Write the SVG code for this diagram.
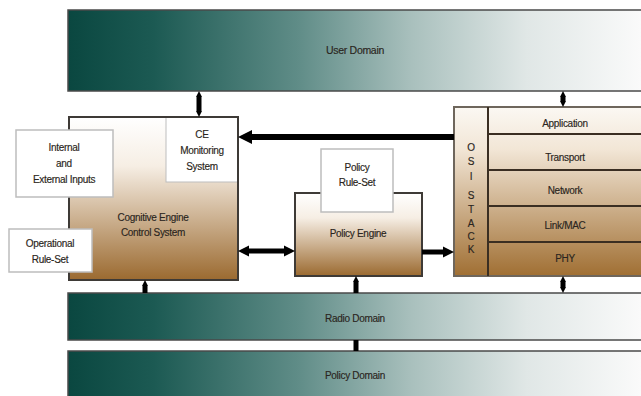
<svg xmlns="http://www.w3.org/2000/svg" width="641" height="396" viewBox="0 0 641 396">
<style>
text{font-family:"Liberation Sans",Arial,sans-serif;font-size:10px;fill:#2a2520;text-anchor:middle;dominant-baseline:central;letter-spacing:-0.3px;stroke:#2a2520;stroke-width:0.15px}
.band{stroke:#4a4a4a;stroke-width:1.5}
.brown{stroke:#3e3a36;stroke-width:2}
.white{fill:#fff;stroke:#bdbdbd;stroke-width:1.5}
.div{stroke:#3a2e22;stroke-width:2}
.conn line{stroke:#000;stroke-width:5}
</style>
<defs>
<linearGradient id="teal" gradientUnits="userSpaceOnUse" x1="68" y1="0" x2="641" y2="0">
<stop offset="0" stop-color="#0a4740"/>
<stop offset="0.15" stop-color="#1c5a53"/>
<stop offset="0.4" stop-color="#5f8c87"/>
<stop offset="0.6" stop-color="#a9c0bd"/>
<stop offset="0.8" stop-color="#e0e7e6"/>
<stop offset="1" stop-color="#fafafa"/>
</linearGradient>
<linearGradient id="tan" x1="0" y1="0" x2="0" y2="1">
<stop offset="0" stop-color="#ffffff"/>
<stop offset="0.3" stop-color="#f6eee4"/>
<stop offset="1" stop-color="#9b6a30"/>
</linearGradient>
<linearGradient id="osi" x1="0" y1="0" x2="0" y2="1">
<stop offset="0" stop-color="#fbf8f3"/>
<stop offset="0.25" stop-color="#f2e6d6"/>
<stop offset="1" stop-color="#a06f33"/>
</linearGradient>
<marker id="hs" viewBox="0 0 10 10" refX="0" refY="5" markerWidth="6" markerHeight="11" orient="auto-start-reverse" markerUnits="userSpaceOnUse"><path d="M0,0L10,5L0,10z" fill="#000"/></marker>
<marker id="hm" viewBox="0 0 10 10" refX="0" refY="5" markerWidth="11" markerHeight="14" orient="auto-start-reverse" markerUnits="userSpaceOnUse"><path d="M0,0L10,5L0,10z" fill="#000"/></marker>
<marker id="hl" viewBox="0 0 10 10" refX="0" refY="5" markerWidth="14" markerHeight="15" orient="auto-start-reverse" markerUnits="userSpaceOnUse"><path d="M0,0L10,5L0,10z" fill="#000"/></marker>
</defs>
<rect width="641" height="396" fill="#fff"/>

<g id="user-domain">
<rect class="band" x="68" y="10" width="580" height="81" fill="url(#teal)"/>
<text x="355" y="50" style="font-size:10.5px">User Domain</text>
</g>

<g id="ce-control">
<rect class="brown" x="69" y="117" width="169" height="163" fill="url(#tan)"/>
<text x="153" y="217">Cognitive Engine</text>
<text x="153" y="232">Control System</text>
</g>

<g id="ce-monitoring">
<rect x="166" y="117" width="72" height="65" fill="#fff" stroke="#bdbdbd" stroke-width="1"/>
<rect x="69" y="117" width="169" height="163" fill="none" class="brown"/>
<text x="202" y="134">CE</text>
<text x="202" y="150">Monitoring</text>
<text x="202" y="166">System</text>
</g>

<g id="inputs">
<rect class="white" x="16" y="130" width="97" height="67"/>
<text x="64" y="147">Internal</text>
<text x="64" y="163">and</text>
<text x="64" y="179">External Inputs</text>
</g>

<g id="operational">
<rect class="white" x="9" y="229" width="83" height="43"/>
<text x="50" y="243">Operational</text>
<text x="50" y="259">Rule-Set</text>
</g>

<g id="policy-engine">
<rect class="brown" x="295" y="193" width="127" height="83" fill="url(#tan)"/>
<text x="358" y="233">Policy Engine</text>
</g>

<g id="policy-ruleset">
<rect class="white" x="321" y="149" width="72" height="63"/>
<text x="357" y="167">Policy</text>
<text x="357" y="182">Rule-Set</text>
</g>

<g id="osi-stack">
<rect x="454" y="107" width="195" height="169" fill="url(#osi)" stroke="#6e665c" stroke-width="2"/>
<line class="div" x1="488" y1="107" x2="488" y2="276"/>
<line class="div" x1="488" y1="134" x2="641" y2="134"/>
<line class="div" x1="488" y1="170" x2="641" y2="170"/>
<line class="div" x1="488" y1="206" x2="641" y2="206"/>
<line class="div" x1="488" y1="242" x2="641" y2="242"/>
<text x="471" y="147">O</text>
<text x="471" y="161">S</text>
<text x="471" y="176">I</text>
<text x="471" y="195">S</text>
<text x="471" y="209">T</text>
<text x="471" y="223">A</text>
<text x="471" y="236">C</text>
<text x="471" y="249">K</text>
<text x="565" y="123">Application</text>
<text x="565" y="157">Transport</text>
<text x="565" y="190">Network</text>
<text x="565" y="225">Link/MAC</text>
<text x="565" y="258">PHY</text>
</g>

<g id="radio-domain">
<rect class="band" x="68" y="293" width="580" height="47" fill="url(#teal)"/>
<text x="355" y="318">Radio Domain</text>
</g>

<g id="policy-domain">
<rect class="band" x="68" y="351" width="580" height="50" fill="url(#teal)"/>
<text x="355" y="375">Policy Domain</text>
</g>

<g id="connectors" class="conn">
<line x1="199" y1="97" x2="199" y2="111" marker-start="url(#hs)" marker-end="url(#hs)"/>
<line x1="563" y1="97" x2="563" y2="101" marker-start="url(#hs)" marker-end="url(#hs)"/>
<line x1="454" y1="137" x2="252" y2="137" style="stroke-width:6" marker-end="url(#hl)"/>
<line x1="249" y1="251" x2="284" y2="251" marker-start="url(#hm)" marker-end="url(#hm)"/>
<line x1="422" y1="252" x2="443" y2="252" marker-end="url(#hm)"/>
<line x1="145" y1="293" x2="145" y2="286" marker-end="url(#hs)"/>
<line x1="356" y1="293" x2="356" y2="282" marker-end="url(#hs)"/>
<line x1="563" y1="282" x2="563" y2="287" marker-start="url(#hs)" marker-end="url(#hs)"/>
<line x1="356" y1="340" x2="356" y2="351"/>
</g>
</svg>
